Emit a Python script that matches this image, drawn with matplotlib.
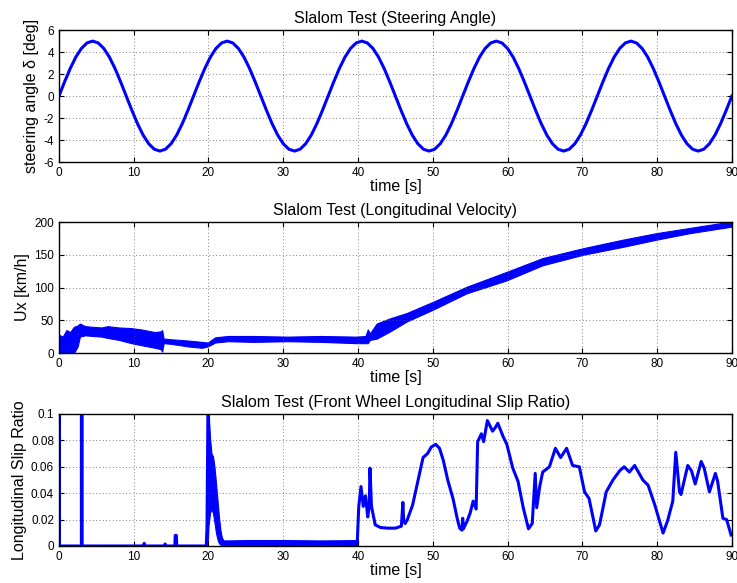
import matplotlib
matplotlib.use("Agg")
import matplotlib.pyplot as plt

plt.rcParams["font.family"] = ["Liberation Sans", "DejaVu Sans"]
plt.rcParams["axes.unicode_minus"] = False

# steering input, sampled every 0.75 s
steer_t = [i * 0.75 for i in range(121)]
steer_deg = [
    0, 1.29, 2.5, 3.54, 4.33, 4.83, 5, 4.83, 4.33, 3.54, 2.5, 1.29,
    0, -1.29, -2.5, -3.54, -4.33, -4.83, -5, -4.83, -4.33, -3.54, -2.5, -1.29,
    0, 1.29, 2.5, 3.54, 4.33, 4.83, 5, 4.83, 4.33, 3.54, 2.5, 1.29,
    0, -1.29, -2.5, -3.54, -4.33, -4.83, -5, -4.83, -4.33, -3.54, -2.5, -1.29,
    0, 1.29, 2.5, 3.54, 4.33, 4.83, 5, 4.83, 4.33, 3.54, 2.5, 1.29,
    0, -1.29, -2.5, -3.54, -4.33, -4.83, -5, -4.83, -4.33, -3.54, -2.5, -1.29,
    0, 1.29, 2.5, 3.54, 4.33, 4.83, 5, 4.83, 4.33, 3.54, 2.5, 1.29,
    0, -1.29, -2.5, -3.54, -4.33, -4.83, -5, -4.83, -4.33, -3.54, -2.5, -1.29,
    0, 1.29, 2.5, 3.54, 4.33, 4.83, 5, 4.83, 4.33, 3.54, 2.5, 1.29,
    0, -1.29, -2.5, -3.54, -4.33, -4.83, -5, -4.83, -4.33, -3.54, -2.5, -1.29,
    0,
]

# longitudinal velocity: noisy trace kept as a min/max envelope
vel_t = [0, 0.5, 1.0, 1.5, 2.0, 2.5, 2.8, 3.5, 4.5, 5.7,
         6.5, 8.0, 9.7, 11.0, 12.8, 13.6, 13.8, 14.0, 15.0, 17.3,
         19.1, 19.9, 20.9, 22.6, 26.0, 30.6, 35.0, 39.8, 41.0, 41.3,
         41.6, 42.5, 44.3, 46.5, 50.0, 54.5, 59.9, 64.7, 70.1, 75.4,
         79.9, 84.4, 90.0]
vel_lo = [0, 0, 0, 0, 0, 10, 25, 27, 26, 25,
          23, 20, 15, 12, 8, 6, 2, 15, 14, 10,
          8, 10, 16, 18, 17, 18, 17, 15, 15, 15,
          20, 22, 33, 48, 66, 91, 111, 134, 150, 162,
          173, 183, 193]
vel_hi = [28, 25, 35, 32, 40, 42, 45, 41, 40, 39,
          41, 39, 38, 36, 32, 33, 35, 22, 21, 19,
          17, 16, 24, 26, 26, 25, 26, 25, 26, 36,
          30, 45, 53, 61, 78, 101, 124, 145, 160, 173,
          183, 191, 201]

# front wheel slip ratio
slip_t = [0, 0, 0.05, 3.0, 3.0, 3.1, 3.1, 11.3, 11.4, 11.5,
          14.1, 14.2, 14.3, 15.5, 15.55, 15.7, 15.75, 19.7, 19.8, 19.95,
          20.1, 20.4, 20.8, 21.2, 21.6, 22.0, 25.0, 30.0, 35.0, 39.9,
          40.1, 40.4, 40.7, 41.0, 41.3, 41.5, 41.6, 41.8, 42.3, 43.0,
          44.0, 45.0, 45.8, 46.0, 46.1, 46.3, 46.6, 47.3, 48.0, 48.7,
          49.3, 49.8, 50.4, 50.9, 51.4, 52.0, 52.7, 53.3, 53.6, 53.9,
          54.0, 54.1, 54.6, 55.0, 55.4, 55.8, 56.0, 56.5, 56.8, 57.3,
          58.0, 58.4, 58.7, 59.4, 59.9, 60.3, 60.7, 61.4, 62.1, 62.8,
          63.3, 63.7, 63.9, 64.3, 64.7, 65.6, 66.4, 67.1, 67.9, 68.7,
          69.6, 70.3, 70.9, 71.8, 72.3, 73.2, 74.1, 75.0, 75.6, 76.3,
          77.0, 78.1, 78.8, 79.7, 80.8, 81.4, 82.1, 82.5, 83.0, 83.2,
          84.1, 84.6, 85.1, 85.9, 86.3, 87.0, 87.8, 88.1, 88.8, 89.3,
          89.9]
slip_v = [0, 0.12, 0, 0, 0.12, 0.12, 0, 0, 0.002, 0,
          0, 0.0015, 0, 0, 0.008, 0.008, 0, 0, 0.014, 0.12,
          0.06, 0.05, 0.04, 0.02, 0.007, 0.003, 0.003, 0.003, 0.003, 0.003,
          0.03, 0.045, 0.03, 0.038, 0.022, 0.03, 0.059, 0.03, 0.016, 0.014,
          0.0135, 0.0135, 0.015, 0.033, 0.02, 0.017, 0.02, 0.031, 0.049, 0.067,
          0.07, 0.075, 0.077, 0.074, 0.065, 0.05, 0.036, 0.02, 0.0135, 0.012,
          0.021, 0.013, 0.019, 0.025, 0.034, 0.028, 0.079, 0.085, 0.079, 0.095,
          0.087, 0.09, 0.093, 0.083, 0.077, 0.068, 0.059, 0.049, 0.029, 0.013,
          0.017, 0.055, 0.029, 0.045, 0.056, 0.060, 0.074, 0.067, 0.074, 0.061,
          0.060, 0.041, 0.036, 0.0114, 0.016, 0.041, 0.050, 0.057, 0.060, 0.056,
          0.061, 0.050, 0.046, 0.031, 0.0098, 0.019, 0.034, 0.071, 0.041, 0.039,
          0.061, 0.057, 0.047, 0.064, 0.059, 0.041, 0.055, 0.049, 0.021, 0.020,
          0.0083]

# chatter around 20 s and the low plateau up to 40 s
band_t = [19.9, 20.0, 20.2, 20.4, 20.6, 20.8, 21.0, 21.2, 21.4, 21.6,
          21.8, 22.0, 22.5, 25.0, 30.0, 35.0, 40.0]
band_lo = [0.0, 0.015, 0.025, 0.028, 0.025, 0.018, 0.010, 0.005, 0.002, 0.001,
           0.0005, 0.0005, 0.0005, 0.0005, 0.0008, 0.0005, 0.0008]
band_hi = [0.1, 0.1, 0.082, 0.070, 0.068, 0.060, 0.048, 0.035, 0.022, 0.012,
           0.006, 0.004, 0.004, 0.0045, 0.0045, 0.004, 0.0045]

xticks = list(range(0, 91, 10))
blue = (0, 0, 1)

fig = plt.figure(figsize=(7.37, 5.83), dpi=100)
ax1 = fig.add_axes([0.080, 0.722, 0.913, 0.2264])
ax2 = fig.add_axes([0.080, 0.3945, 0.913, 0.2247])
ax3 = fig.add_axes([0.080, 0.0635, 0.913, 0.2264])


def style(ax, title, ylabel, yticks, yticklabels):
    ax.set_xlim(0, 90)
    ax.set_xticks(xticks)
    ax.set_yticks(yticks)
    ax.set_yticklabels(yticklabels)
    ax.set_ylim(yticks[0], yticks[-1])
    ax.tick_params(direction="in", top=True, right=True, length=3.5,
                   width=0.8, labelsize=8.5, pad=3.5)
    ax.grid(True, linestyle=(0, (1, 3)), color="0.35", linewidth=0.6)
    for sp in ax.spines.values():
        sp.set_linewidth(1.0)
    ax.set_title(title, fontsize=11.5, pad=5)
    ax.set_xlabel("time [s]", fontsize=11.5, labelpad=0)
    ax.set_ylabel(ylabel, fontsize=11.5, labelpad=3)


ax1.plot(steer_t, steer_deg, color=blue, lw=2.2)
style(ax1, "Slalom Test (Steering Angle)", "steering angle \u03b4 [deg]",
      [-6, -4, -2, 0, 2, 4, 6], ["-6", "-4", "-2", "0", "2", "4", "6"])

ax2.fill_between(vel_t, vel_lo, vel_hi, color=blue, lw=0.8, edgecolor=blue)
style(ax2, "Slalom Test (Longitudinal Velocity)", "Ux [km/h]",
      [0, 50, 100, 150, 200], ["0", "50", "100", "150", "200"])

ax3.fill_between(band_t, band_lo, band_hi, color=blue, lw=0.8, edgecolor=blue)
ax3.plot(slip_t, slip_v, color=blue, lw=2.2)
style(ax3, "Slalom Test (Front Wheel Longitudinal Slip Ratio)",
      "Longitudinal Slip Ratio",
      [0, 0.02, 0.04, 0.06, 0.08, 0.1], ["0", "0.02", "0.04", "0.06", "0.08", "0.1"])

fig.savefig("out.png", dpi=100)
